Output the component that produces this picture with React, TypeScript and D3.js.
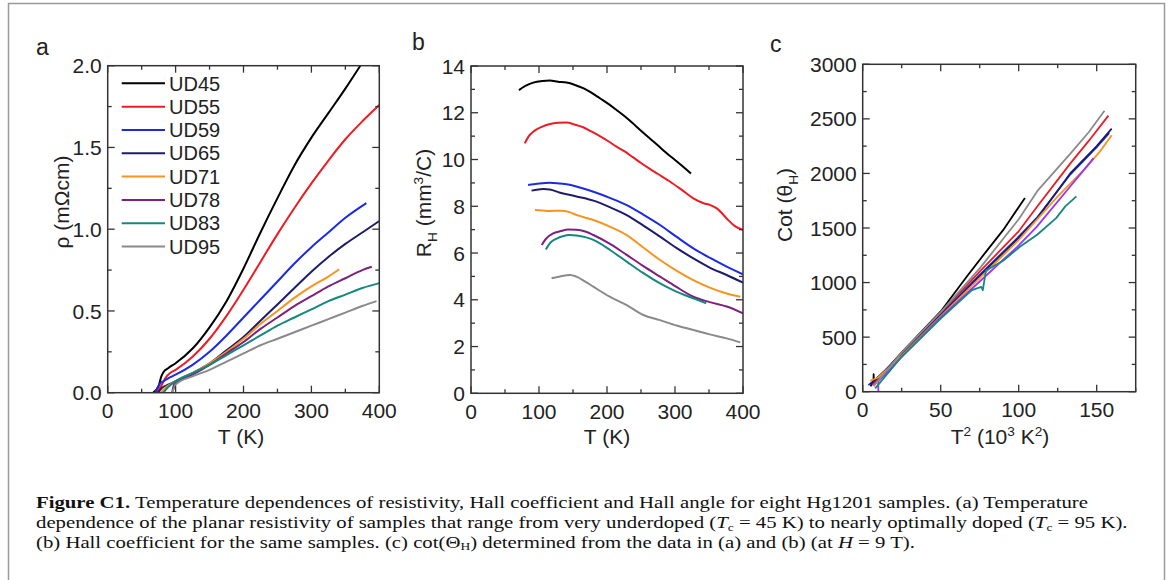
import { useEffect, useRef } from 'react'
import * as d3 from 'd3'

const samples = ['UD45', 'UD55', 'UD59', 'UD65', 'UD71', 'UD78', 'UD83', 'UD95']
const colors = ['#000000', '#ec1c24', '#1a2ae6', '#1c1c6e', '#f7931e', '#7d2181', '#16877f', '#8a8a8a']
// panel c draws UD78 in a brighter violet
const colorsC = ['#000000', '#ec1c24', '#1a2ae6', '#1c1c6e', '#f7931e', '#9933ff', '#16877f', '#8a8a8a']

// (a) planar resistivity, [T (K), rho (mOhm cm)]
const rhoUD45 = [[67, 0], [75, 0.04], [79, 0.10], [82, 0.125], [89, 0.15], [100, 0.18], [125, 0.27], [150, 0.40], [175, 0.56], [200, 0.76], [225, 0.98], [250, 1.19], [275, 1.39], [300, 1.56], [325, 1.71], [350, 1.86], [372, 2.0]]
const rhoUD55 = [[72, 0], [80, 0.05], [85, 0.09], [92, 0.12], [100, 0.14], [125, 0.22], [150, 0.33], [175, 0.47], [200, 0.63], [225, 0.80], [250, 0.97], [275, 1.13], [300, 1.28], [325, 1.42], [350, 1.55], [375, 1.66], [400, 1.76]]
const rhoUD59 = [[70, 0], [76, 0.05], [82, 0.07], [90, 0.09], [100, 0.11], [125, 0.17], [150, 0.25], [175, 0.35], [200, 0.46], [225, 0.57], [250, 0.68], [275, 0.79], [300, 0.89], [325, 0.98], [350, 1.07], [381, 1.16]]
const rhoUD65 = [[74, 0], [80, 0.03], [90, 0.05], [100, 0.07], [125, 0.12], [150, 0.18], [175, 0.26], [200, 0.34], [225, 0.44], [250, 0.54], [275, 0.64], [300, 0.74], [325, 0.83], [350, 0.91], [375, 0.98], [400, 1.05]]
const rhoUD71 = [[78, 0], [85, 0.03], [100, 0.07], [125, 0.12], [150, 0.18], [175, 0.25], [200, 0.33], [225, 0.42], [250, 0.50], [275, 0.58], [300, 0.65], [325, 0.71], [341, 0.755]]
const rhoUD78 = [[95, 0], [97, 0.04], [100, 0.06], [125, 0.11], [150, 0.17], [175, 0.24], [200, 0.31], [225, 0.39], [250, 0.46], [275, 0.53], [300, 0.59], [325, 0.65], [350, 0.70], [375, 0.75], [389, 0.77]]
const rhoUD83 = [[82, 0], [88, 0.03], [100, 0.07], [125, 0.12], [150, 0.17], [175, 0.23], [200, 0.29], [225, 0.35], [250, 0.41], [275, 0.46], [300, 0.51], [325, 0.56], [350, 0.60], [375, 0.64], [400, 0.67]]
const rhoUD95 = [[94, 0], [98, 0.03], [100, 0.05], [125, 0.10], [150, 0.14], [175, 0.19], [200, 0.24], [225, 0.29], [250, 0.33], [275, 0.37], [300, 0.41], [325, 0.45], [350, 0.49], [375, 0.53], [396, 0.56]]

// (b) Hall coefficient, [T (K), R_H (mm^3/C)]
const rhUD45 = [[70.5, 12.97], [80, 13.15], [91.5, 13.29], [105, 13.36], [116, 13.38], [128, 13.33], [140.5, 13.29], [152, 13.2], [165, 13.05], [177, 12.86], [189.5, 12.62], [202, 12.38], [214, 12.12], [226, 11.85], [238, 11.55], [250, 11.23], [263, 10.9], [275, 10.6], [287, 10.29], [300, 9.98], [312, 9.69], [323.5, 9.4]]
const rhUD55 = [[79, 10.69], [85, 11.0], [91.5, 11.19], [104, 11.4], [116, 11.52], [128, 11.57], [140.5, 11.58], [152, 11.5], [165, 11.38], [177, 11.2], [189.5, 11.0], [202, 10.78], [214, 10.55], [226, 10.35], [238, 10.1], [250, 9.85], [263, 9.6], [275, 9.38], [293, 9.05], [310, 8.7], [327, 8.34], [342, 8.13], [352, 8.05], [362, 7.9], [376, 7.48], [388, 7.15], [400, 6.99]]
const rhUD59 = [[84, 8.91], [95, 8.95], [116, 9.01], [131, 8.97], [145, 8.92], [160, 8.8], [180, 8.62], [205, 8.35], [229, 8.05], [253, 7.65], [278, 7.2], [302, 6.7], [327, 6.2], [351, 5.8], [376, 5.42], [400, 5.09]]
const rhUD65 = [[89, 8.67], [106, 8.74], [116, 8.72], [131, 8.58], [155, 8.42], [180, 8.24], [205, 7.95], [229, 7.62], [253, 7.18], [278, 6.7], [302, 6.22], [327, 5.77], [351, 5.38], [376, 5.06], [400, 4.73]]
const rhUD71 = [[94, 7.84], [105, 7.82], [116, 7.8], [131, 7.81], [145, 7.75], [155, 7.63], [180, 7.41], [205, 7.12], [229, 6.77], [253, 6.25], [278, 5.7], [302, 5.25], [327, 4.84], [351, 4.52], [376, 4.27], [396, 4.13]]
const rhUD78 = [[104, 6.34], [110, 6.6], [121, 6.84], [131, 6.93], [143, 7.01], [155, 7.0], [168, 6.92], [180, 6.77], [205, 6.38], [229, 5.92], [253, 5.45], [278, 4.99], [302, 4.55], [327, 4.13], [351, 3.9], [376, 3.71], [400, 3.42]]
const rhUD83 = [[110, 6.15], [117, 6.45], [126, 6.62], [135, 6.72], [145, 6.77], [155, 6.75], [168, 6.68], [180, 6.56], [205, 6.12], [229, 5.63], [253, 5.15], [278, 4.7], [302, 4.35], [327, 4.06], [346, 3.85]]
const rhUD95 = [[118.5, 4.92], [131, 5.0], [146, 5.06], [155, 4.99], [168, 4.78], [180, 4.56], [204, 4.13], [229, 3.77], [253.5, 3.35], [278, 3.13], [302, 2.9], [327, 2.71], [351, 2.52], [376, 2.35], [396, 2.18]]

// (c) Hall angle, [T^2 (10^3 K^2), cot(theta_H)]
const cotUD45 = [[5, 50], [6.9, 90], [7, 160], [7.2, 85], [10, 120], [25, 360], [50, 735], [67, 1060], [80, 1300], [90, 1480], [104, 1775]]
const cotUD55 = [[6, 60], [25, 350], [50, 720], [75, 1100], [100, 1470], [112, 1700], [133, 2090], [145, 2300], [157.5, 2530]]
const cotUD59 = [[3.6, 60], [10, 130], [25, 345], [50, 705], [75, 1070], [100, 1420], [112, 1600], [133, 1990], [150, 2240], [158, 2370]]
const cotUD65 = [[5, 70], [25, 340], [50, 700], [75, 1060], [100, 1410], [112, 1590], [133, 2000], [150, 2250], [159.6, 2410]]
const cotUD71 = [[4.7, 100], [10, 130], [25, 330], [50, 690], [75, 1040], [100, 1390], [125, 1790], [143.6, 2060], [152, 2200], [159.6, 2350]]
const cotUD78 = [[10, 0], [10, 95], [25, 320], [50, 680], [75, 1010], [100, 1340], [111.5, 1510], [133, 1880], [140, 2000], [148, 2140]]
const cotUD83 = [[8, 30], [25, 320], [50, 670], [70, 930], [76, 960], [77, 930], [79, 1110], [90, 1200], [101, 1330], [112, 1440], [124, 1590], [130, 1700], [137, 1790]]
const cotUD95 = [[7, 50], [25, 360], [50, 730], [75, 1130], [100, 1580], [112, 1840], [133, 2180], [145, 2380], [155, 2575]]

const rhoSeries = [rhoUD45, rhoUD55, rhoUD59, rhoUD65, rhoUD71, rhoUD78, rhoUD83, rhoUD95]
const rhSeries = [rhUD45, rhUD55, rhUD59, rhUD65, rhUD71, rhUD78, rhUD83, rhUD95]
const cotSeries = [cotUD45, cotUD55, cotUD59, cotUD65, cotUD71, cotUD78, cotUD83, cotUD95]

const SANS = "'Liberation Sans', Arial, sans-serif"
const SERIF = "'Liberation Serif', 'Times New Roman', serif"
const INK = '#222'

type Seg = { t: string, bold?: boolean, italic?: boolean, sub?: boolean, sup?: boolean }

function addText(parent: any, segs: Seg[], size: number, subShift = 0.3) {
  let shift = 0
  segs.forEach(s => {
    const target = s.sub ? size * subShift : s.sup ? -size * 0.4 : 0
    const ts = parent.append('tspan').text(s.t).attr('dy', target - shift)
    shift = target
    if (s.sub || s.sup) ts.style('font-size', `${size * 0.65}px`)
    if (s.bold) ts.style('font-weight', 'bold')
    if (s.italic) ts.style('font-style', 'italic')
  })
}

function drawPanel(svg: any, p: any) {
  const x = d3.scaleLinear().domain([0, p.xMax]).range([p.left, p.right])
  const y = d3.scaleLinear().domain([0, p.yMax]).range([p.bottom, p.top])
  const g = svg.append('g')

  const clipId = `clip-${p.key}`
  g.append('clipPath').attr('id', clipId)
    .append('rect')
    .attr('x', p.left).attr('y', p.top)
    .attr('width', p.right - p.left).attr('height', p.bottom - p.top)

  const line = d3.line().x((d: any) => x(d[0])).y((d: any) => y(d[1])).curve(d3.curveMonotoneX)
  const lineLin = d3.line().x((d: any) => x(d[0])).y((d: any) => y(d[1]))

  p.series.forEach((s: number[][], i: number) => {
    g.append('path')
      .attr('clip-path', `url(#${clipId})`)
      .attr('d', (p.linear ? lineLin : line)(s as any))
      .attr('fill', 'none')
      .attr('stroke', p.colors[i])
      .attr('stroke-width', p.lw)
      .attr('stroke-linejoin', 'round')
  })

  // ticks on all four sides, pointing in
  const xMaj = d3.range(0, p.xMax + 1e-9, p.xMajor)
  const xMin = d3.range(0, p.xMax + 1e-9, p.xMinor).filter(v => !xMaj.some(m => Math.abs(m - v) < 1e-9))
  const yMaj = d3.range(0, p.yMax + 1e-9, p.yMajor)
  const yMin = d3.range(0, p.yMax + 1e-9, p.yMinor).filter(v => !yMaj.some(m => Math.abs(m - v) < 1e-9))
  const tk = g.append('g').attr('stroke', '#333').attr('stroke-width', 1.3)
  const xTicks = [...xMaj.map(v => [v, 7]), ...xMin.map(v => [v, 4])]
  const yTicks = [...yMaj.map(v => [v, 7]), ...yMin.map(v => [v, 4])]
  xTicks.forEach(([v, l]) => {
    tk.append('line').attr('x1', x(v)).attr('x2', x(v)).attr('y1', p.bottom).attr('y2', p.bottom - l)
    tk.append('line').attr('x1', x(v)).attr('x2', x(v)).attr('y1', p.top).attr('y2', p.top + l)
  })
  yTicks.forEach(([v, l]) => {
    tk.append('line').attr('y1', y(v)).attr('y2', y(v)).attr('x1', p.left).attr('x2', p.left + l)
    tk.append('line').attr('y1', y(v)).attr('y2', y(v)).attr('x1', p.right).attr('x2', p.right - l)
  })

  g.append('rect')
    .attr('x', p.left).attr('y', p.top)
    .attr('width', p.right - p.left).attr('height', p.bottom - p.top)
    .attr('fill', 'none').attr('stroke', '#333').attr('stroke-width', 1.5)

  const lbl = g.append('g').style('font-family', SANS).style('font-size', '21px').attr('fill', INK)
  p.xLabels.forEach((v: number) => {
    lbl.append('text').attr('x', x(v)).attr('y', p.bottom + 25.5).attr('text-anchor', 'middle').text(String(v))
  })
  yMaj.forEach(v => {
    lbl.append('text').attr('x', p.left - 6).attr('y', y(v)).attr('dy', '0.36em')
      .attr('text-anchor', 'end').text(p.yFmt(v))
  })

  // axis titles
  const xt = g.append('text').attr('x', p.xTitleX).attr('y', 444)
    .attr('text-anchor', 'middle').style('font-family', SANS).style('font-size', '21px').attr('fill', INK)
  addText(xt, p.xTitle, 21)
  const yt = g.append('text')
    .attr('transform', `translate(${p.yTitleX},${p.yTitleY}) rotate(-90)`)
    .attr('text-anchor', 'middle').style('font-family', SANS).style('font-size', '21px').attr('fill', INK)
  addText(yt, p.yTitle, 21)

  g.append('text').attr('x', p.tagX).attr('y', p.tagY)
    .style('font-family', SANS).style('font-size', '23px').attr('fill', INK).text(p.key)

  return { x, y, g }
}

export default function App() {
  const svgRef = useRef<SVGSVGElement>(null)

  useEffect(() => {
    if (!svgRef.current) return
    const svg = d3.select(svgRef.current)
    svg.selectAll('*').remove()

    svg.append('rect').attr('width', 1171).attr('height', 580).attr('fill', '#fff')
    svg.append('rect').attr('x', 8.5).attr('y', 3.5).attr('width', 1156).attr('height', 620)
      .attr('fill', 'none').attr('stroke', '#9a9a9a').attr('stroke-width', 1.5)

    const a = drawPanel(svg, {
      key: 'a', left: 107.7, right: 379.3, top: 65.7, bottom: 392.7,
      xMax: 400, xMajor: 100, xMinor: 50, yMax: 2, yMajor: 0.5, yMinor: 0.25,
      xLabels: [0, 100, 200, 300, 400], yFmt: d3.format('.1f'),
      series: rhoSeries, colors, lw: 2,
      xTitle: [{ t: 'T (K)' }], xTitleX: 241,
      yTitle: [{ t: 'ρ (mΩcm)' }], yTitleX: 69, yTitleY: 202,
      tagX: 36, tagY: 55
    })

    // legend inside panel a
    const leg = a.g.append('g').style('font-family', SANS).style('font-size', '20px')
    samples.forEach((s, i) => {
      const cy = 83.3 + i * 23.33
      leg.append('line').attr('x1', 121.7).attr('x2', 165).attr('y1', cy).attr('y2', cy)
        .attr('stroke', colors[i]).attr('stroke-width', 2)
      leg.append('text').attr('x', 169).attr('y', cy).attr('dy', '0.36em').attr('fill', INK).text(s)
    })

    drawPanel(svg, {
      key: 'b', left: 471, right: 743, top: 66, bottom: 393.3,
      xMax: 400, xMajor: 100, xMinor: 50, yMax: 14, yMajor: 2, yMinor: 1,
      xLabels: [0, 100, 200, 300, 400], yFmt: d3.format('d'),
      series: rhSeries, colors, lw: 2,
      xTitle: [{ t: 'T (K)' }], xTitleX: 607,
      yTitle: [{ t: 'R' }, { t: 'H', sub: true }, { t: ' (mm' }, { t: '3', sup: true }, { t: '/C)' }],
      yTitleX: 431, yTitleY: 203,
      tagX: 412, tagY: 50
    })

    drawPanel(svg, {
      key: 'c', left: 862.7, right: 1135.7, top: 64.3, bottom: 391.7,
      xMax: 175, xMajor: 50, xMinor: 25, yMax: 3000, yMajor: 500, yMinor: 250,
      xLabels: [0, 50, 100, 150], yFmt: d3.format('d'),
      series: cotSeries, colors: colorsC, lw: 1.8, linear: true,
      xTitle: [{ t: 'T' }, { t: '2', sup: true }, { t: ' (10' }, { t: '3', sup: true }, { t: ' K' }, { t: '2', sup: true }, { t: ')' }],
      xTitleX: 1000,
      yTitle: [{ t: 'Cot (θ' }, { t: 'H', sub: true }, { t: ')' }], yTitleX: 792, yTitleY: 205,
      tagX: 770, tagY: 52
    })

    // caption
    const cap = svg.append('g').style('font-family', SERIF).style('font-size', '17px').attr('fill', '#111')
    const lines: Seg[][] = [
      [{ t: 'Figure C1.', bold: true }, { t: ' Temperature dependences of resistivity, Hall coefficient and Hall angle for eight Hg1201 samples. (a) Temperature' }],
      [{ t: 'dependence of the planar resistivity of samples that range from very underdoped (' }, { t: 'T', italic: true }, { t: 'c', sub: true },
        { t: ' = 45 K) to nearly optimally doped (' }, { t: 'T', italic: true }, { t: 'c', sub: true }, { t: ' = 95 K).' }],
      [{ t: '(b) Hall coefficient for the same samples. (c) cot(Θ' }, { t: 'H', sub: true }, { t: ') determined from the data in (a) and (b) (at ' },
        { t: 'H', italic: true }, { t: ' = 9 T).' }]
    ]
    const nodes = lines.map((segs, i) => {
      const t = cap.append('text').attr('x', 0).attr('y', 508.3 + i * 19.7)
      addText(t, segs, 17, 0.15)
      return t
    })
    const w2 = (nodes[1].node() as any).getComputedTextLength()
    const sx = w2 > 0 ? 1092 / w2 : 1
    cap.attr('transform', `translate(36,0) scale(${sx},1)`)
  }, [])

  return (
    <svg ref={svgRef} width={1171} height={580}
      style={{ position: 'absolute', left: 0, top: 0, display: 'block' }} />
  )
}
